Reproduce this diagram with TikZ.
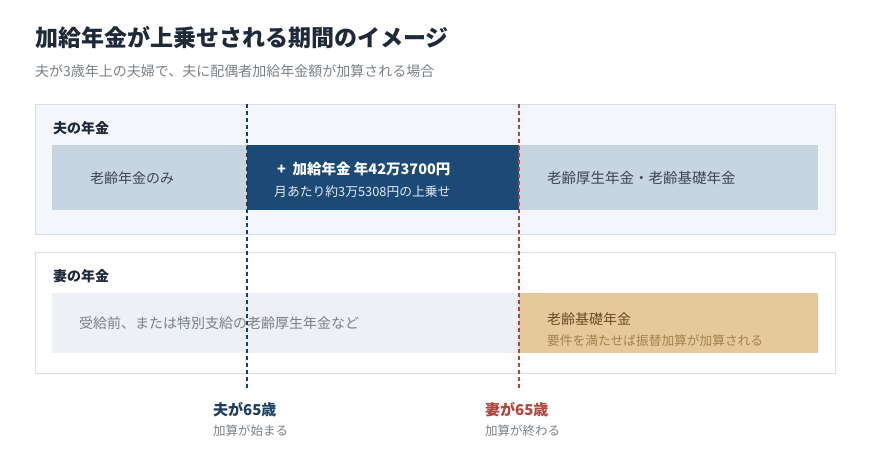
\documentclass[tikz,border=0pt]{standalone}
\usepackage{fontspec}
\setmainfont{Noto Sans CJK JP}
\usetikzlibrary{positioning}

\definecolor{titleink}{HTML}{1E2A3A}
\definecolor{grayink}{HTML}{7A8088}
\definecolor{barink}{HTML}{3A4652}
\definecolor{navybar}{HTML}{1B4A77}
\definecolor{navyline}{HTML}{1F3F60}
\definecolor{redline}{HTML}{B0453A}
\definecolor{paleblue}{HTML}{C6D5E0}
\definecolor{palegray}{HTML}{EDF1F5}
\definecolor{panelfill}{HTML}{F3F6FA}
\definecolor{panelrule}{HTML}{D6DFE7}
\definecolor{goldbar}{HTML}{E6C99B}
\definecolor{goldink}{HTML}{6B4A25}
\definecolor{goldsub}{HTML}{A3804F}

\begin{document}
\begin{tikzpicture}[x=1pt, y=-1pt,
    panel/.style={draw=panelrule, line width=1pt, anchor=north west, minimum width=800pt, inner sep=0pt},
    bar/.style={anchor=north west, inner sep=0pt},
    txt/.style={anchor=west, inner sep=0pt, font=\fontsize{14}{16}\selectfont},
    head/.style={anchor=west, inner sep=0pt, text=titleink, font=\fontsize{14}{16}\selectfont\bfseries},
    markline/.style={line width=2pt, dash pattern=on 4pt off 3pt}]
  \useasboundingbox (0,0) rectangle (870,467);

  % title
  \node[anchor=west, inner sep=0pt, text=titleink, font=\fontsize{23}{26}\selectfont\bfseries] (title) at (35,38) {加給年金が上乗せされる期間のイメージ};
  \node[anchor=west, inner sep=0pt, text=grayink, font=\fontsize{14}{16}\selectfont] (subtitle) at (35,71) {夫が3歳年上の夫婦で、夫に配偶者加給年金額が加算される場合};

  % husband
  \node[panel, fill=panelfill, minimum height=130pt] (hpanel) at (35,104) {};
  \node[head] (hhead) at (53,128) {夫の年金};
  \node[bar, fill=paleblue, minimum width=195pt, minimum height=65pt] (honly) at (52,145) {};
  \node[bar, fill=navybar, minimum width=272pt, minimum height=65pt] (hplus) at (247,145) {};
  \node[bar, fill=paleblue, minimum width=299pt, minimum height=65pt] (hboth) at (519,145) {};
  \node[txt, text=barink, right=38pt of honly.west] (honlytxt) {老齢年金のみ};
  \node[anchor=west, inner sep=0pt, text=white, font=\fontsize{14.5}{16}\selectfont\bfseries] (plustxt) at (277,169) {+\ \ 加給年金\ 年42万3700円};
  \node[anchor=west, inner sep=0pt, text=white!88!navybar, font=\fontsize{12.8}{15}\selectfont] (plussub) at (274,192) {月あたり約3万5308円の上乗せ};
  \node[txt, text=barink, right=28pt of hboth.west, font=\fontsize{14.5}{16}\selectfont] (hbothtxt) {老齢厚生年金・老齢基礎年金};

  % wife
  \node[panel, fill=white, minimum height=121pt] (wpanel) at (35,252) {};
  \node[head] (whead) at (53,276) {妻の年金};
  \node[bar, fill=palegray, minimum width=467pt, minimum height=60pt] (wbefore) at (52,293) {};
  \node[bar, fill=goldbar, minimum width=299pt, minimum height=60pt] (wbasic) at (519,293) {};
  \node[txt, text=grayink, right=27pt of wbefore.west] (wbeforetxt) {受給前、または特別支給の老齢厚生年金など};
  \node[txt, text=goldink] (wbasictxt) at (547,319) {老齢基礎年金};
  \node[anchor=west, inner sep=0pt, text=goldsub, font=\fontsize{12.7}{15}\selectfont] (wbasicsub) at (547,341) {要件を満たせば振替加算が加算される};

  % age markers
  \foreach \nm/\xx/\col/\who/\what in {h/247/navyline/夫が65歳/加算が始まる, w/519/redline/妻が65歳/加算が終わる} {
    \coordinate (\nm top) at (\xx,104);
    \coordinate (\nm bot) at (\xx,390);
    \draw[markline, \col] (\nm top) -- (\nm bot);
    \node[anchor=west, inner sep=0pt, text=\col, font=\fontsize{15}{17}\selectfont\bfseries] (\nm age) at (\xx-34,410) {\who};
    \node[anchor=west, inner sep=0pt, text=grayink, font=\fontsize{12.5}{15}\selectfont] (\nm note) at (\xx-34,431) {\what};
  }
\end{tikzpicture}
\end{document}
